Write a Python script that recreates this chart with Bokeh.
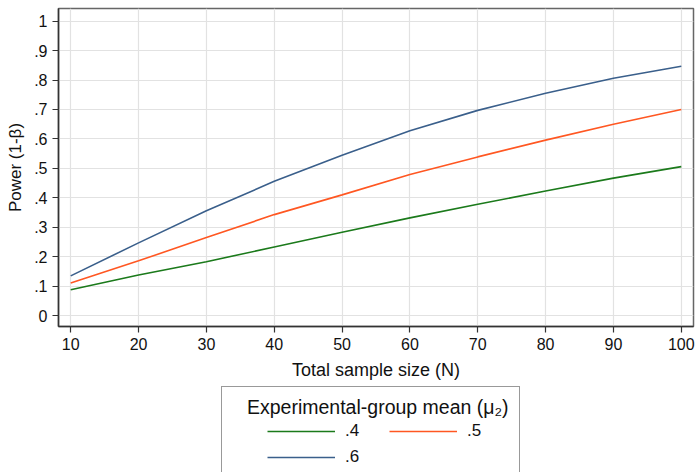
from bokeh.plotting import figure
from bokeh.layouts import column
from bokeh.models import Legend, LegendItem, FixedTicker, Range1d
from bokeh.embed import file_html
from bokeh.resources import INLINE

# ---- data ----
sample_size = [10, 20, 30, 40, 50, 60, 70, 80, 90, 100]
power_mu04 = [0.088, 0.138, 0.183, 0.233, 0.283, 0.332, 0.378, 0.423, 0.467, 0.506]
power_mu05 = [0.111, 0.186, 0.265, 0.343, 0.410, 0.479, 0.539, 0.596, 0.650, 0.700]
power_mu06 = [0.135, 0.247, 0.356, 0.456, 0.545, 0.628, 0.697, 0.755, 0.806, 0.847]
series_labels = [".4", ".5", ".6"]
series_colors = ["#1b7a1b", "#ff5722", "#3a5f8b"]
x_ticks = [10, 20, 30, 40, 50, 60, 70, 80, 90, 100]
y_ticks = [0, 0.1, 0.2, 0.3, 0.4, 0.5, 0.6, 0.7, 0.8, 0.9, 1.0]
y_tick_labels = ["0", ".1", ".2", ".3", ".4", ".5", ".6", ".7", ".8", ".9", "1"]
x_title = "Total sample size (N)"
y_title = "Power (1-\u03b2)"
legend_title = "Experimental-group mean (\u03bc\u2082)"

FONT = "Liberation Sans"

p = figure(width=698, height=382, output_backend="svg", toolbar_location=None,
           x_range=Range1d(8.2, 101.8), y_range=Range1d(-0.037, 1.043),
           min_border_left=58, min_border_right=5, min_border_top=8,
           min_border_bottom=55)
p.background_fill_color = "white"
p.border_fill_color = "white"
p.outline_line_color = "#666666"
p.outline_line_width = 1.5

series = [power_mu04, power_mu05, power_mu06]
for vals, col in zip(series, series_colors):
    p.line(sample_size, vals, line_color=col, line_width=1.6)

# axes
for ax in (p.xaxis[0], p.yaxis[0]):
    ax.axis_line_color = "#333333"
    ax.axis_line_width = 1.5
    ax.major_tick_line_color = "#333333"
    ax.major_tick_line_width = 1.2
    ax.major_tick_out = 6
    ax.major_tick_in = 0
    ax.minor_tick_line_color = None
    ax.major_label_text_font = FONT
    ax.major_label_text_font_size = "16px"
    ax.major_label_text_color = "#111111"
    ax.axis_label_text_font = FONT
    ax.axis_label_text_font_style = "normal"
    ax.axis_label_text_color = "#111111"

p.xaxis.axis_label_text_font_size = "18px"
p.yaxis.axis_label_text_font_size = "17px"
p.xaxis.ticker = FixedTicker(ticks=x_ticks)
p.yaxis.ticker = FixedTicker(ticks=y_ticks)
p.yaxis.major_label_overrides = {t: l for t, l in zip(y_ticks, y_tick_labels)}
p.xaxis.axis_label = x_title
p.yaxis.axis_label = y_title
p.xaxis.major_label_standoff = 5
p.xaxis.axis_label_standoff = 7
p.yaxis.major_label_standoff = 5
p.yaxis.axis_label_standoff = 6

p.xgrid.grid_line_color = "#e2e2e2"
p.ygrid.grid_line_color = "#e2e2e2"
p.xgrid.grid_line_width = 1.2
p.ygrid.grid_line_width = 1.2

# ---- legend panel below the chart ----
p2 = figure(width=698, height=90, output_backend="svg", toolbar_location=None,
            x_range=Range1d(0, 1), y_range=Range1d(0, 1),
            x_axis_location=None, y_axis_location=None,
            min_border_left=0, min_border_right=0, min_border_top=0,
            min_border_bottom=0)
p2.grid.visible = False
p2.outline_line_color = None
p2.background_fill_color = "white"
p2.border_fill_color = "white"

spacers = [p2.line(x=[], y=[], line_alpha=0) for _ in range(2)]

# 1) legend frame (blank spacer rows only give it its size)
box = Legend(items=[LegendItem(label=" ", renderers=[r]) for r in spacers],
             location=(163, -16), orientation="vertical", ncols=1,
             glyph_width=68, glyph_height=50, label_standoff=10,
             label_width=219, label_height=50, spacing=0, padding=0, margin=0,
             border_line_color="#333333", border_line_width=1,
             background_fill_color="white", background_fill_alpha=1.0)
box.label_text_font = FONT
box.label_text_font_size = "17px"
p2.add_layout(box, "center")

# 2) legend title
head = Legend(items=[LegendItem(label=" ", renderers=[spacers[0]])],
              title=legend_title, location=(189, 31),
              glyph_width=10, glyph_height=20, label_standoff=0,
              label_width=10, label_height=20, spacing=0, padding=0, margin=0,
              title_standoff=2,
              border_line_color=None, background_fill_alpha=0.0)
head.title_text_font = FONT
head.title_text_font_size = "19.5px"
head.title_text_font_style = "normal"
head.title_text_color = "#111111"
head.label_text_font = FONT
head.label_text_font_size = "17px"
p2.add_layout(head, "center")

# 3) legend entries: same series, lying outside this panel's visible ranges
proxies = [p2.line(sample_size, vals, line_color=col, line_width=1.6)
           for vals, col in zip(series, series_colors)]
items = [LegendItem(label=lab, renderers=[r]) for lab, r in zip(series_labels, proxies)]
legend = Legend(items=items, location=(209, 5),
                orientation="horizontal", ncols=2,
                glyph_width=68, glyph_height=20, label_standoff=10,
                label_width=38, label_height=20, spacing=6, padding=0, margin=0,
                border_line_color=None, background_fill_alpha=0.0)
legend.label_text_font = FONT
legend.label_text_font_size = "17px"
legend.label_text_color = "#111111"
p2.add_layout(legend, "center")

layout = column(p, p2, spacing=0)
open("out.html", "w").write(file_html(layout, INLINE))
